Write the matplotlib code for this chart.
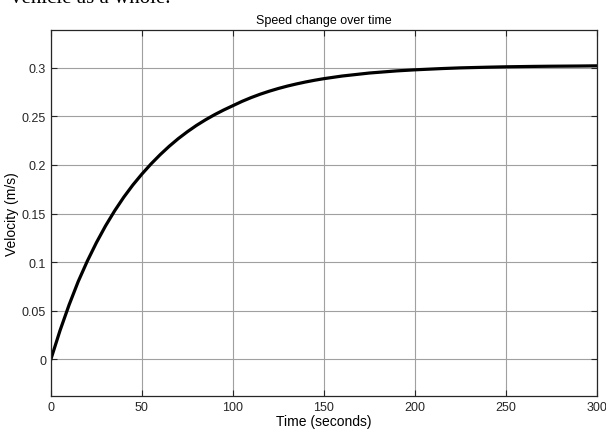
import numpy as np
import matplotlib
matplotlib.use('Agg')
import matplotlib.pyplot as plt

# values
t = [0, 5, 10, 15, 20, 25, 30, 35, 40, 45, 50, 55, 60, 65, 70, 75, 80, 85,
     90, 95, 100, 105, 110, 115, 120, 125, 130, 135, 140, 145, 150, 160, 175,
     190, 200, 215, 225, 240, 250, 265, 275, 290, 300]
v = [0, 0.0295, 0.0560, 0.0800, 0.1010, 0.1200, 0.1372, 0.1527, 0.1667,
     0.1793, 0.1906, 0.2010, 0.2105, 0.2192, 0.2271, 0.2342, 0.2407, 0.2465,
     0.2518, 0.2566, 0.2610, 0.2654, 0.2693, 0.2728, 0.2759, 0.2787, 0.2812,
     0.2834, 0.2854, 0.2872, 0.2888, 0.2915, 0.2946, 0.2968, 0.2979, 0.2992,
     0.2999, 0.3006, 0.3010, 0.3014, 0.3016, 0.3018, 0.3020]
xticks = [0, 50, 100, 150, 200, 250, 300]
yticks = [0, 0.05, 0.1, 0.15, 0.2, 0.25, 0.3]

plt.rcParams['font.family'] = ['Liberation Sans', 'DejaVu Sans']
fig = plt.figure(figsize=(6.06, 4.35), dpi=100)
ax = fig.add_axes([0.084, 0.087, 0.901, 0.842])

ax.plot(t, v, color='black', linewidth=2.3, solid_joinstyle='round')
ax.set_xlim(0, 300)
ax.set_ylim(-0.038, 0.339)
ax.set_xticks(xticks)
ax.set_yticks(yticks)
ax.set_yticklabels(['0', '0.05', '0.1', '0.15', '0.2', '0.25', '0.3'])
ax.grid(True, color='#a0a0a0', linewidth=0.8)
ax.tick_params(direction='in', length=4, labelsize=9, colors='#262626',
               top=True, right=True, width=0.8)
for s in ax.spines.values():
    s.set_color('#262626')
    s.set_linewidth(0.9)
ax.set_title('Speed change over time', fontsize=9, pad=5)
ax.set_xlabel('Time (seconds)', fontsize=10, labelpad=1)
ax.set_ylabel('Velocity (m/s)', fontsize=10, labelpad=2)

# cut-off line of the document text above the figure
fig.text(0.018, 1 - 3 / 435, 'vehicle as a whole.', family='Liberation Serif',
         fontsize=15, va='baseline', ha='left')

fig.savefig('out.png', dpi=100)
